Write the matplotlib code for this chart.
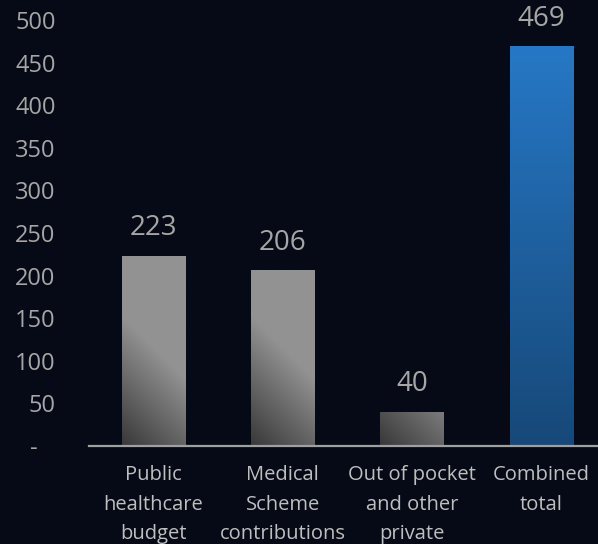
import matplotlib.pyplot as plt
import numpy as np
from matplotlib.colors import LinearSegmentedColormap

categories = ['Public\nhealthcare\nbudget', 'Medical\nScheme\ncontributions',
              'Out of pocket\nand other\nprivate', 'Combined\ntotal']
values = [223, 206, 40, 469]
yticks = [0, 50, 100, 150, 200, 250, 300, 350, 400, 450, 500]
ytick_labels = ['-   '] + [str(v) for v in yticks[1:]]

bg = '#050a16'
plt.rcParams['font.family'] = ['Open Sans', 'DejaVu Sans']

fig = plt.figure(figsize=(5.98, 5.44), dpi=100, facecolor=bg)
ax = fig.add_axes([89 / 598, 98 / 544, 1 - 89 / 598, 426 / 544])
ax.set_facecolor(bg)

x = np.arange(len(values))
w = 0.49
bars = ax.bar(x, values, width=w, color='none', zorder=2)
ax.set_xlim(-0.5, 3.44)
ax.set_ylim(0, 500)

grey = LinearSegmentedColormap.from_list('g', ['#383838', '#929292'])
blue = LinearSegmentedColormap.from_list('b', ['#174878', '#2678c6'])

fig.canvas.draw()
for i, (b, v) in enumerate(zip(bars, values)):
    x0, x1 = x[i] - w / 2, x[i] + w / 2
    (px0, py0), (px1, py1) = ax.transData.transform([(x0, 0), (x1, v)])
    wp, hp = px1 - px0, py1 - py0
    nx, ny = 100, max(int(hp), 2)
    xx, yy = np.meshgrid(np.linspace(0, wp, nx), np.linspace(0, hp, ny))
    if i < 3:
        g = np.clip((xx + yy) / 130.0, 0, 1)
        cmap = grey
    else:
        g = yy / hp
        cmap = blue
    im = ax.imshow(g, cmap=cmap, vmin=0, vmax=1, origin='lower',
                   extent=[x0, x1, 0, v], aspect='auto', zorder=2,
                   interpolation='bilinear')
    im.set_clip_path(b)
    ax.annotate(str(v), (x[i], v), xytext=(0, 20), textcoords='offset points',
                ha='center', va='center', fontsize=20, color='#a6a6a6')

ax.set_xticks(x)
ax.set_xticklabels(categories, fontsize=14.5, color='#bfbfbf', linespacing=1.62,
                   va='top')
ax.set_yticks(yticks)
ax.set_yticklabels(ytick_labels, fontsize=17, color='#a6a6a6')
ax.tick_params(axis='both', length=0)
ax.tick_params(axis='y', pad=24)
ax.tick_params(axis='x', pad=14)
for s in ['top', 'right', 'left']:
    ax.spines[s].set_visible(False)
ax.spines['bottom'].set_color('#a0a0a0')
ax.spines['bottom'].set_linewidth(1.6)
ax.spines['bottom'].set_zorder(3)

fig.savefig('out.png', dpi=100, facecolor=bg)
